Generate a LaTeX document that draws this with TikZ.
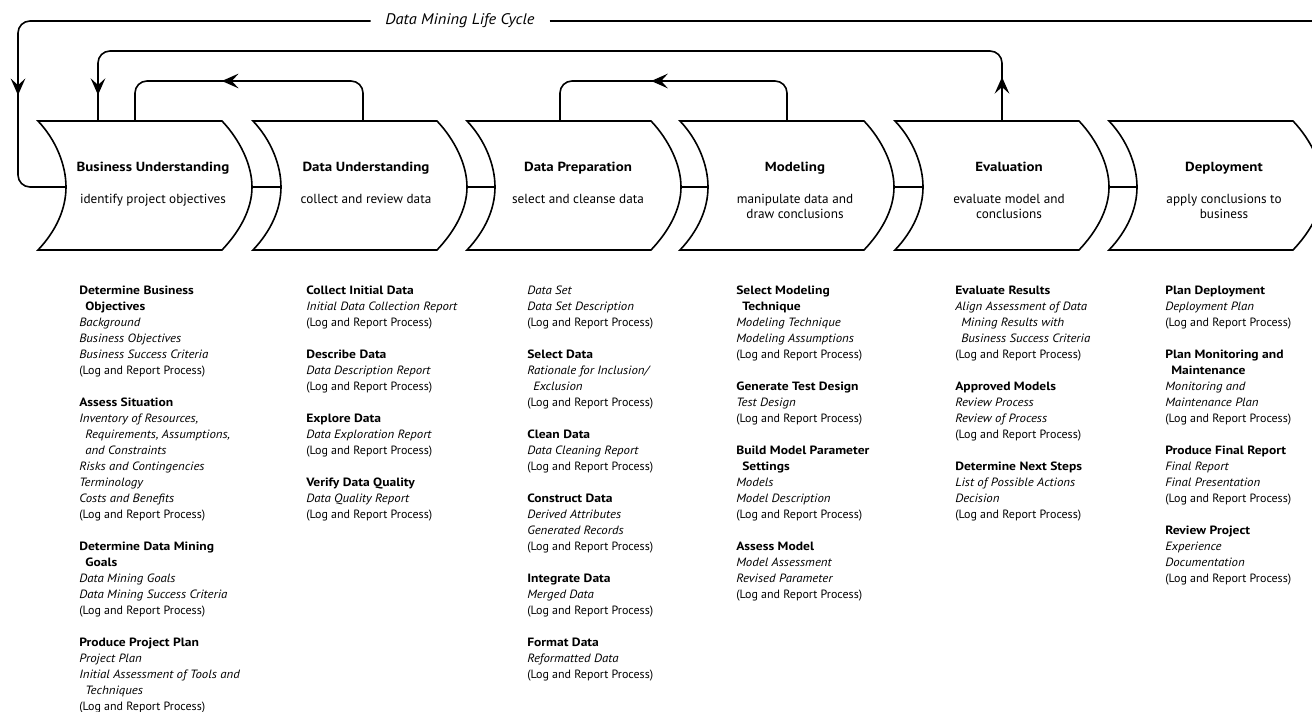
\documentclass[tikz,border=0pt]{standalone}
\usepackage{fontspec}
\setmainfont{PT Sans}[BoldFeatures={FakeStretch=1.13}, ItalicFeatures={FakeStretch=1.07}]
\usetikzlibrary{arrows.meta,decorations.markings}
\newlength\tind
\setlength\tind{4.5pt}
\newcommand\lrp{(Log and Report Process)}
\newcommand\mychev[2]{%
  \begin{scope}[shift={(#1,0)}]
    \draw[chev] (0,121) -- (184,121) .. controls (202,140) and (214,165) .. (214,187)
      .. controls (214,209) and (202,231) .. (184,250) -- (0,250)
      .. controls (18,231) and (28,209) .. (28,187)
      .. controls (28,165) and (18,140) .. (0,121) -- cycle;
    \coordinate (#2-l) at (28,187);
    \coordinate (#2-r) at (214,187);
  \end{scope}}
\tikzset{
  chev/.style={line width=1.2pt, draw=black, line join=miter},
  link/.style={line width=1.2pt, draw=black},
  flow/.style={line width=1.2pt, draw=black, rounded corners=9pt},
  tip/.tip={Stealth[length=12.5pt,width=11pt,inset=5pt]},
  arrowat/.style={postaction={decorate}, decoration={markings, mark=at position #1 with {\arrow{tip}}}},
  phase/.style={font=\fontsize{9.9pt}{11.25pt}\selectfont, align=center, inner sep=0pt, anchor=north},
  tasks/.style={font=\fontsize{9pt}{12pt}\selectfont, align=left, anchor=north west, inner sep=0pt},
  cyclelabel/.style={font=\fontsize{11.5pt}{13pt}\selectfont\itshape, inner xsep=11pt, inner ysep=0pt},
}
\begin{document}
\begin{tikzpicture}[x=0.75pt,y=-0.75pt]
\clip (0,0) rectangle (1312,712);

% chevrons
\mychev{38}{bu}
\mychev{253}{du}
\mychev{467}{dp}
\mychev{680}{mo}
\mychev{895}{ev}
\mychev{1109}{de}

% phase texts
\node[phase] (bu) at (153,161.5) {\textbf{Business Understanding}\\[12.75pt]identify project objectives};
\node[phase] (du) at (366,161.5) {\textbf{Data Understanding}\\[12.75pt]collect and review data};
\node[phase] (dp) at (578,161.5) {\textbf{Data Preparation}\\[12.75pt]select and cleanse data};
\node[phase] (mo) at (795,161.5) {\textbf{Modeling}\\[12.75pt]manipulate data and\\draw conclusions};
\node[phase] (ev) at (1009,161.5) {\textbf{Evaluation}\\[12.75pt]evaluate model and\\conclusions};
\node[phase] (de) at (1224,161.5) {\textbf{Deployment}\\[12.75pt]apply conclusions to\\business};

% attachment points on chevron tops
\coordinate (bu-t1) at (98,121);
\coordinate (bu-t2) at (135,121);
\coordinate (du-t) at (363,121);
\coordinate (dp-t) at (560,121);
\coordinate (mo-t) at (787,121);
\coordinate (ev-t) at (1002,121);

% links between chevrons
\draw[link] (bu-r) -- (du-l);
\draw[link] (du-r) -- (dp-l);
\draw[link] (dp-r) -- (mo-l);
\draw[link] (mo-r) -- (ev-l);
\draw[link] (ev-r) -- (de-l);

% life cycle loop
\node[cyclelabel] (dmlc) at (460,21) {Data Mining Life Cycle};
\coordinate (lc-corner) at (18,21);
\coordinate (lc-end) at (1320,21);
\draw[flow, arrowat=-101pt] (dmlc.west) -- (lc-corner) |- (bu-l);
\draw[link] (dmlc.east) -- (lc-end);

% feedback loops
\draw[flow, postaction={decorate}, decoration={markings,
    mark=at position 33pt with {\arrow{tip}},
    mark=at position -19.5pt with {\arrow{tip}}}]
  (ev-t) -- ++(0,-70) -| (bu-t1);
\draw[flow, arrowat=132pt] (du-t) -- ++(0,-40) -| (bu-t2);
\draw[flow, arrowat=128pt] (mo-t) -- ++(0,-40) -| (dp-t);

% task columns
\node[tasks] (c1) at (79,286) {\textbf{Determine Business}\\
\hspace*{\tind}\textbf{Objectives}\\
\textit{Background}\\
\textit{Business Objectives}\\
\textit{Business Success Criteria}\\
\lrp\\[12pt]
\textbf{Assess Situation}\\
\textit{Inventory of Resources,}\\
\hspace*{\tind}\textit{Requirements, Assumptions,}\\
\hspace*{\tind}\textit{and Constraints}\\
\textit{Risks and Contingencies}\\
\textit{Terminology}\\
\textit{Costs and Benefits}\\
\lrp\\[12pt]
\textbf{Determine Data Mining}\\
\hspace*{\tind}\textbf{Goals}\\
\textit{Data Mining Goals}\\
\textit{Data Mining Success Criteria}\\
\lrp\\[12pt]
\textbf{Produce Project Plan}\\
\textit{Project Plan}\\
\textit{Initial Assessment of Tools and}\\
\hspace*{\tind}\textit{Techniques}\\
\lrp};

\node[tasks] (c2) at (306,286) {\textbf{Collect Initial Data}\\
\textit{Initial Data Collection Report}\\
\lrp\\[12pt]
\textbf{Describe Data}\\
\textit{Data Description Report}\\
\lrp\\[12pt]
\textbf{Explore Data}\\
\textit{Data Exploration Report}\\
\lrp\\[12pt]
\textbf{Verify Data Quality}\\
\textit{Data Quality Report}\\
\lrp};

\node[tasks] (c3) at (527,286) {\textit{Data Set}\\
\textit{Data Set Description}\\
\lrp\\[12pt]
\textbf{Select Data}\\
\textit{Rationale for Inclusion/}\\
\hspace*{\tind}\textit{Exclusion}\\
\lrp\\[12pt]
\textbf{Clean Data}\\
\textit{Data Cleaning Report}\\
\lrp\\[12pt]
\textbf{Construct Data}\\
\textit{Derived Attributes}\\
\textit{Generated Records}\\
\lrp\\[12pt]
\textbf{Integrate Data}\\
\textit{Merged Data}\\
\lrp\\[12pt]
\textbf{Format Data}\\
\textit{Reformatted Data}\\
\lrp};

\node[tasks] (c4) at (736,286) {\textbf{Select Modeling}\\
\hspace*{\tind}\textbf{Technique}\\
\textit{Modeling Technique}\\
\textit{Modeling Assumptions}\\
\lrp\\[12pt]
\textbf{Generate Test Design}\\
\textit{Test Design}\\
\lrp\\[12pt]
\textbf{Build Model Parameter}\\
\hspace*{\tind}\textbf{Settings}\\
\textit{Models}\\
\textit{Model Description}\\
\lrp\\[12pt]
\textbf{Assess Model}\\
\textit{Model Assessment}\\
\textit{Revised Parameter}\\
\lrp};

\node[tasks] (c5) at (955,286) {\textbf{Evaluate Results}\\
\textit{Align Assessment of Data}\\
\hspace*{\tind}\textit{Mining Results with}\\
\hspace*{\tind}\textit{Business Success Criteria}\\
\lrp\\[12pt]
\textbf{Approved Models}\\
\textit{Review Process}\\
\textit{Review of Process}\\
\lrp\\[12pt]
\textbf{Determine Next Steps}\\
\textit{List of Possible Actions}\\
\textit{Decision}\\
\lrp};

\node[tasks] (c6) at (1165,286) {\textbf{Plan Deployment}\\
\textit{Deployment Plan}\\
\lrp\\[12pt]
\textbf{Plan Monitoring and}\\
\hspace*{\tind}\textbf{Maintenance}\\
\textit{Monitoring and}\\
\textit{Maintenance Plan}\\
\lrp\\[12pt]
\textbf{Produce Final Report}\\
\textit{Final Report}\\
\textit{Final Presentation}\\
\lrp\\[12pt]
\textbf{Review Project}\\
\textit{Experience}\\
\textit{Documentation}\\
\lrp};
\end{tikzpicture}
\end{document}
